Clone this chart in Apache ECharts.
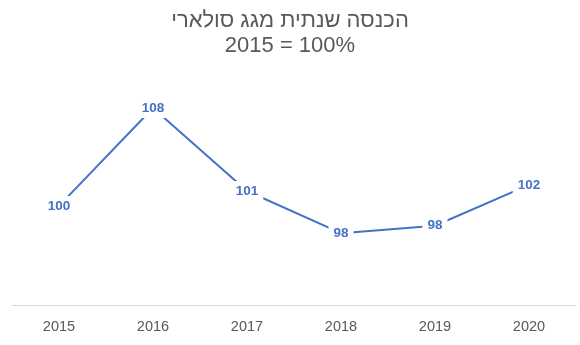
<!DOCTYPE html>
<html>
<head>
<meta charset="utf-8">
<script src="https://cdn.jsdelivr.net/npm/echarts@6/dist/echarts.min.js"></script>
<style>html,body{margin:0;padding:0;background:#fff;}#c{width:580px;height:345px;}</style>
</head>
<body>
<div id="c"></div>
<script>
const titleLine1 = 'הכנסה שנתית מגג סולארי';
const titleLine2 = '2015 = 100%';
const categories = ['2015', '2016', '2017', '2018', '2019', '2020'];
const values = [100, 107.9, 101.2, 97.8, 98.4, 101.7];

const chart = echarts.init(document.getElementById('c'));
chart.setOption({
  animation: false,
  backgroundColor: '#fff',
  title: {
    text: titleLine1 + '\n' + titleLine2,
    left: 'center',
    top: 3,
    textStyle: { fontFamily: 'Liberation Sans', fontSize: 22, fontWeight: 'normal', color: '#595959', lineHeight: 25 }
  },
  grid: { left: 12, right: 4, top: 82, bottom: 40 },
  xAxis: {
    type: 'category',
    data: categories,
    boundaryGap: true,
    axisLine: { lineStyle: { color: '#d9d9d9', width: 1 } },
    axisTick: { show: false },
    axisLabel: { color: '#595959', fontFamily: 'Liberation Sans', fontSize: 14.5, margin: 14 }
  },
  yAxis: {
    type: 'value',
    min: 92, max: 110,
    show: false,
    splitLine: { show: false }
  },
  series: [{
    type: 'line',
    data: values,
    symbol: 'circle',
    symbolSize: 1,
    lineStyle: { color: '#4472C4', width: 2 },
    itemStyle: { color: '#4472C4' },
    label: {
      show: true,
      position: 'inside',
      formatter: p => Math.round(p.value),
      color: '#4472C4',
      fontFamily: 'Liberation Sans',
      fontWeight: 'bold',
      fontSize: 13.5,
      backgroundColor: '#fff',
      padding: [3, 5]
    }
  }]
});
</script>
</body>
</html>
